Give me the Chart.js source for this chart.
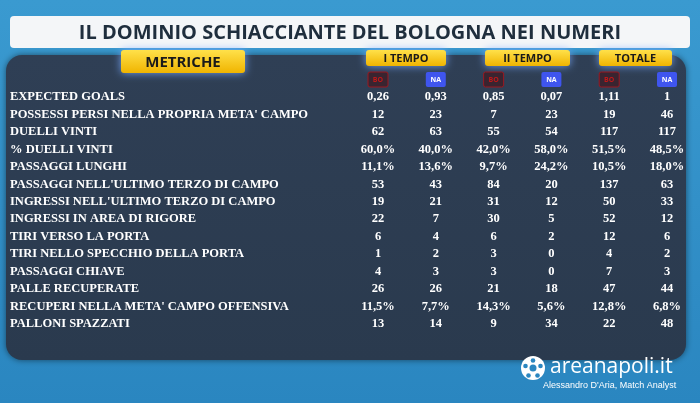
<!DOCTYPE html>
<html><head><meta charset="utf-8">
<script src="https://cdn.jsdelivr.net/npm/chart.js@4"></script>
<style>html,body{margin:0;padding:0;background:#2a86c0;}#w{width:700px;height:403px;}</style>
</head><body><div id="w"><canvas id="c"></canvas></div>
<script>
const title = "IL DOMINIO SCHIACCIANTE DEL BOLOGNA NEI NUMERI";
const metrics = ["EXPECTED GOALS","POSSESSI PERSI NELLA PROPRIA META' CAMPO","DUELLI VINTI","% DUELLI VINTI","PASSAGGI LUNGHI","PASSAGGI NELL'ULTIMO TERZO DI CAMPO","INGRESSI NELL'ULTIMO TERZO DI CAMPO","INGRESSI IN AREA DI RIGORE","TIRI VERSO LA PORTA","TIRI NELLO SPECCHIO DELLA PORTA","PASSAGGI CHIAVE","PALLE RECUPERATE","RECUPERI NELLA META' CAMPO OFFENSIVA","PALLONI SPAZZATI"];
const groups = ["I TEMPO","II TEMPO","TOTALE"];
const teams = ["BO","NA"];
const boFirst = ["0,26","12","62","60,0%","11,1%","53","19","22","6","1","4","26","11,5%","13"];
const naFirst = ["0,93","23","63","40,0%","13,6%","43","21","7","4","2","3","26","7,7%","14"];
const boSecond = ["0,85","7","55","42,0%","9,7%","84","31","30","6","3","3","21","14,3%","9"];
const naSecond = ["0,07","23","54","58,0%","24,2%","20","12","5","2","0","0","18","5,6%","34"];
const boTotal = ["1,11","19","117","51,5%","10,5%","137","50","52","12","4","7","47","12,8%","22"];
const naTotal = ["1","46","117","48,5%","18,0%","63","33","12","6","2","3","44","6,8%","48"];
const columns = [boFirst,naFirst,boSecond,naSecond,boTotal,naTotal];

function rr(ctx,x,y,w,h,r){ctx.beginPath();ctx.moveTo(x+r,y);ctx.arcTo(x+w,y,x+w,y+h,r);ctx.arcTo(x+w,y+h,x,y+h,r);ctx.arcTo(x,y+h,x,y,r);ctx.arcTo(x,y,x+w,y,r);ctx.closePath();}
function yellowBox(ctx,x,y,w,h,t,fs){
  ctx.save();ctx.shadowColor='rgba(120,170,255,0.9)';ctx.shadowBlur=8;
  const g=ctx.createLinearGradient(0,y,0,y+h);g.addColorStop(0,'#ffe14a');g.addColorStop(1,'#f0b400');
  ctx.fillStyle=g;rr(ctx,x,y,w,h,3);ctx.fill();ctx.restore();
  ctx.fillStyle='#1a1a1a';ctx.font='bold '+fs+'px "Open Sans"';ctx.textAlign='center';ctx.textBaseline='middle';
  ctx.fillText(t,x+w/2,y+h/2+1);
}
const deco={id:'deco',beforeDraw(ch){
  const ctx=ch.ctx;ctx.save();
  const g=ctx.createLinearGradient(0,0,0,403);g.addColorStop(0,'#3a9ad0');g.addColorStop(1,'#2a86c0');
  ctx.fillStyle=g;ctx.fillRect(0,0,700,403);
  ctx.fillStyle='#f4f6f8';rr(ctx,10,16,680,32,4);ctx.fill();
  ctx.fillStyle='#1f2e3d';ctx.font='bold 20px "Open Sans"';ctx.textAlign='center';ctx.textBaseline='middle';
  ctx.fillText(title,350,33);
  ctx.save();ctx.shadowColor='rgba(0,0,0,0.5)';ctx.shadowBlur=6;
  const pg=ctx.createLinearGradient(0,55,0,360);pg.addColorStop(0,'#2f3f55');pg.addColorStop(1,'#2a3a4e');
  ctx.fillStyle=pg;rr(ctx,6,55,680,305,16);ctx.fill();ctx.restore();
  yellowBox(ctx,121,50,124,23,'METRICHE',15);
  const gb=[[366,80],[485,85],[599,73]];
  groups.forEach((t,i)=>yellowBox(ctx,gb[i][0],50,gb[i][1],16,t,11));
  ctx.restore();
},
afterDatasetsDraw(ch){
  const ctx=ch.ctx, xs=ch.scales.x, ys=ch.scales.y;ctx.save();
  for(let c=0;c<6;c++){
    const x=xs.getPixelForValue(c), t=teams[c%2];
    if(c%2===0){ctx.fillStyle='#3a2430';ctx.strokeStyle='#9a1820';ctx.lineWidth=1;rr(ctx,x-10,72,20,15,2);ctx.fill();ctx.stroke();ctx.fillStyle='#c01818';}
    else{ctx.fillStyle='#3f55ee';rr(ctx,x-10,72,20,15,2);ctx.fill();ctx.fillStyle='#ffffff';}
    ctx.font='bold 7px "Open Sans"';ctx.textAlign='center';ctx.textBaseline='middle';ctx.fillText(t,x,80);
  }
  ctx.fillStyle='#ffffff';ctx.textBaseline='middle';
  ctx.font='bold 12.5px "Liberation Serif"';ctx.textAlign='left';
  metrics.forEach((m,i)=>ctx.fillText(m,10,ys.getPixelForValue(i)));
  ctx.font='bold 12.5px "Liberation Serif"';ctx.textAlign='center';
  ch.data.datasets.forEach((ds,c)=>ds.data.forEach(p=>ctx.fillText(columns[c][p.y],xs.getPixelForValue(p.x),ys.getPixelForValue(p.y))));
  ctx.fillStyle='#ffffff';ctx.beginPath();ctx.arc(533,368,12,0,Math.PI*2);ctx.fill();
  ctx.fillStyle='#2a86c0';ctx.beginPath();ctx.arc(533,368,3.5,0,Math.PI*2);ctx.fill();
  [[0,-7.5],[7.5,-2],[4.5,7.5],[-4.5,7.5],[-7.5,-2]].forEach(d=>{ctx.beginPath();ctx.arc(533+d[0],368+d[1],2.3,0,Math.PI*2);ctx.fill();});
  ctx.fillStyle='#ffffff';ctx.font='21px "Open Sans"';ctx.textAlign='left';ctx.fillText('areanapoli.it',550,367);
  ctx.font='9px "Liberation Sans"';ctx.fillText("Alessandro D'Aria, Match Analyst",543,386);
  ctx.restore();
}};
new Chart(document.getElementById('c'),{
  type:'scatter',
  data:{datasets:columns.map((col,c)=>({data:col.map((v,i)=>({x:c,y:i})),pointRadius:0}))},
  options:{responsive:true,maintainAspectRatio:false,animation:false,
    layout:{padding:{left:378,right:33,top:97,bottom:79}},
    plugins:{legend:{display:false},tooltip:{enabled:false}},
    scales:{x:{type:'linear',min:0,max:5,display:false},y:{type:'linear',min:0,max:13,reverse:true,display:false}}},
  plugins:[deco]
});
</script></body></html>
